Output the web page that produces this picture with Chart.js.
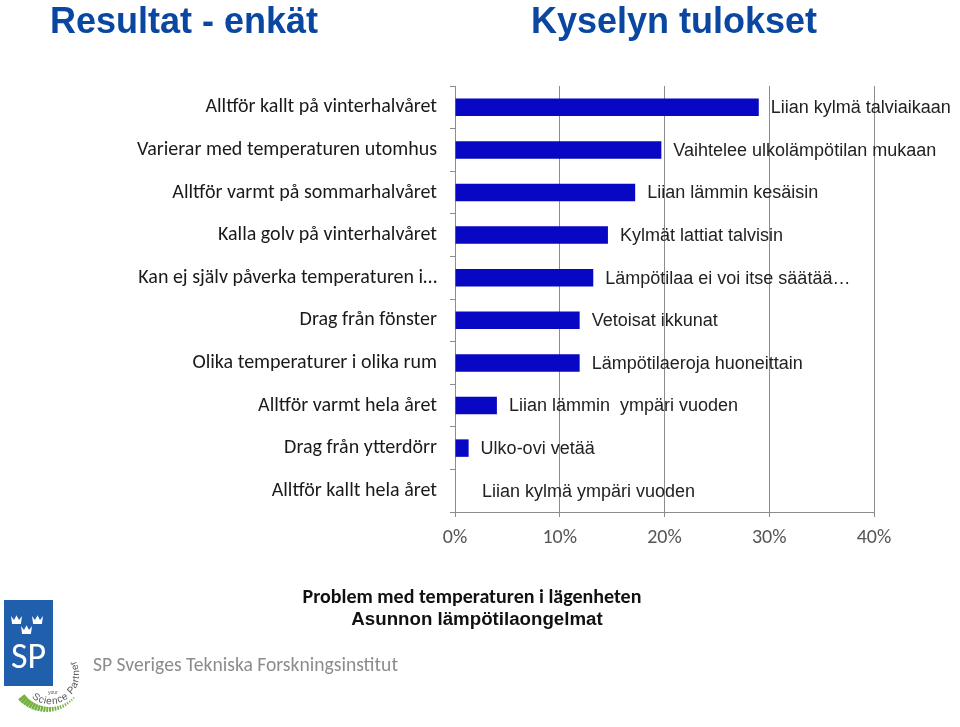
<!DOCTYPE html>
<html>
<head>
<meta charset="utf-8">
<script src="https://cdn.jsdelivr.net/npm/chart.js@4"></script>
<style>
  html, body { margin: 0; padding: 0; background: #fff; }
  #page { position: relative; width: 960px; height: 727px; overflow: hidden; }
  #chart { position: absolute; left: 0; top: 0; }
  .title { position: absolute; top: 0; font: bold 36px "Liberation Sans", Arial, sans-serif; color: #0a47a0; white-space: nowrap; }
  .caption { position: absolute; white-space: nowrap; text-align: center; }
  #logo { position: absolute; left: 0; top: 595px; }
</style>
</head>
<body>
<div id="page">
  <canvas id="chart" width="960" height="727"></canvas>
  <div class="title" style="left:50px">Resultat - enkät</div>
  <div class="title" style="left:531px">Kyselyn tulokset</div>
  <div class="caption" style="left:272px; width:400px; top:584px; font: bold 20px Carlito, Lato, sans-serif; color:#111">Problem med temperaturen i lägenheten</div>
  <div class="caption" style="left:277px; width:400px; top:608px; font: bold 18.7px 'Liberation Sans', Arial, sans-serif; color:#111">Asunnon lämpötilaongelmat</div>
  <div class="caption" style="left:93px; top:652px; font: 19.6px Carlito, Lato, sans-serif; color:#8c8c8c; text-align:left">SP Sveriges Tekniska Forskningsinstitut</div>
  <canvas id="logo" width="90" height="132"></canvas>
</div>
<script>
const categories = [
  "Alltför kallt på vinterhalvåret",
  "Varierar med temperaturen utomhus",
  "Alltför varmt på sommarhalvåret",
  "Kalla golv på vinterhalvåret",
  "Kan ej själv påverka temperaturen i…",
  "Drag från fönster",
  "Olika temperaturer i olika rum",
  "Alltför varmt hela året",
  "Drag från ytterdörr",
  "Alltför kallt hela året"
];
const finnishLabels = [
  "Liian kylmä talviaikaan",
  "Vaihtelee ulkolämpötilan mukaan",
  "Liian lämmin kesäisin",
  "Kylmät lattiat talvisin",
  "Lämpötilaa ei voi itse säätää…",
  "Vetoisat ikkunat",
  "Lämpötilaeroja huoneittain",
  "Liian lämmin  ympäri vuoden",
  "Ulko-ovi vetää",
  "Liian kylmä ympäri vuoden"
];
const shares = [29.0, 19.7, 17.2, 14.6, 13.2, 11.9, 11.9, 4.0, 1.3, 0];
const xTicks = [0, 10, 20, 30, 40];

// finnish translation next to each bar
const finnishText = {
  id: 'finnishText',
  afterDatasetsDraw(chart) {
    const { ctx } = chart
    const meta = chart.getDatasetMeta(0)
    ctx.save()
    ctx.font = "18px 'Liberation Sans', Arial, sans-serif"
    ctx.fillStyle = '#222'
    ctx.textAlign = 'left'
    ctx.textBaseline = 'middle'
    for (let i = 0; i < meta.data.length; i++) {
      const bar = meta.data[i]
      const off = shares[i] === 0 ? 27 : 12
      ctx.fillText(finnishLabels[i], bar.x + off, bar.y + 1)
    }
    ctx.restore()
  }
}

const config = {
  type: 'bar',
  data: {
    labels: categories,
    datasets: [{
      data: shares,
      backgroundColor: '#0707c4',
      borderWidth: 0,
      barPercentage: 0.41,
      categoryPercentage: 1
    }]
  },
  options: {
    indexAxis: 'y',
    responsive: false,
    animation: false,
    layout: { padding: { top: 86, right: 86, bottom: 170, left: 0 } },
    plugins: { legend: { display: false }, tooltip: { enabled: false } },
    scales: {
      x: {
        min: 0,
        max: 40,
        afterFit(scale) { scale.height = 45 },
        afterBuildTicks(scale) { scale.ticks = xTicks.map(v => ({ value: v })) },
        border: { color: '#8c8c8c', width: 1 },
        grid: { color: '#8c8c8c', lineWidth: 1, tickLength: 5 },
        ticks: {
          padding: 9,
          color: '#555',
          font: { family: 'Carlito, Lato, sans-serif', size: 20 },
          callback: v => v + '%'
        }
      },
      y: {
        afterFit(scale) { scale.width = 455 },
        border: { color: '#8c8c8c', width: 1 },
        grid: { drawOnChartArea: false, color: '#8c8c8c', tickLength: 5, offset: true },
        ticks: {
          padding: 13,
          color: '#1a1a1a',
          font: { family: 'Carlito, Lato, sans-serif', size: 20 },
          autoSkip: false
        }
      }
    }
  },
  plugins: [finnishText]
};

new Chart(document.getElementById('chart'), config);

// SP logo
function drawLogo() {
  const c = document.getElementById('logo').getContext('2d')
  c.fillStyle = '#1f5fab'
  c.fillRect(4, 5, 49, 86)
  c.fillStyle = '#fff'
  function crown(x, y, w, h) {
    c.beginPath()
    c.moveTo(x, y)
    c.lineTo(x + w * 0.27, y + h * 0.5)
    c.lineTo(x + w * 0.5, y - h * 0.1)
    c.lineTo(x + w * 0.73, y + h * 0.5)
    c.lineTo(x + w, y)
    c.lineTo(x + w * 0.9, y + h)
    c.lineTo(x + w * 0.1, y + h)
    c.closePath()
    c.fill()
  }
  crown(11, 21, 11, 8)
  crown(32, 21, 11, 8)
  crown(21, 31, 11, 8)
  c.font = "36px Carlito, Lato, sans-serif"
  c.textAlign = 'center'
  c.textBaseline = 'alphabetic'
  c.fillText('SP', 28.5, 73)
  // "your Science Partner" round the corner
  const cx = 50, cy = 80
  c.font = "10px 'Liberation Sans', Arial, sans-serif"
  c.fillStyle = '#555'
  c.textAlign = 'left'
  let ang = Math.PI * 0.72
  for (const ch of 'Science Partner') {
    const w = c.measureText(ch).width
    c.save()
    c.translate(cx, cy)
    c.rotate(ang - Math.PI / 2)
    c.fillText(ch, 0, 29)
    c.restore()
    ang -= (w + 0.3) / 27
  }
  c.font = "5px 'Liberation Sans', Arial, sans-serif"
  c.fillText('your', 48, 99)
  c.fillStyle = '#74b040'
  for (let i = 0; i < 22; i++) {
    const a = Math.PI * 0.78 - i * 0.08
    const len = Math.max(2, 8 - i * 0.3)
    const th = Math.max(0.8, 3 - i * 0.1)
    c.save()
    c.translate(cx, cy)
    c.rotate(a)
    c.fillRect(32, -th / 2, len, th)
    c.restore()
  }
}
drawLogo();
</script>
</body>
</html>
